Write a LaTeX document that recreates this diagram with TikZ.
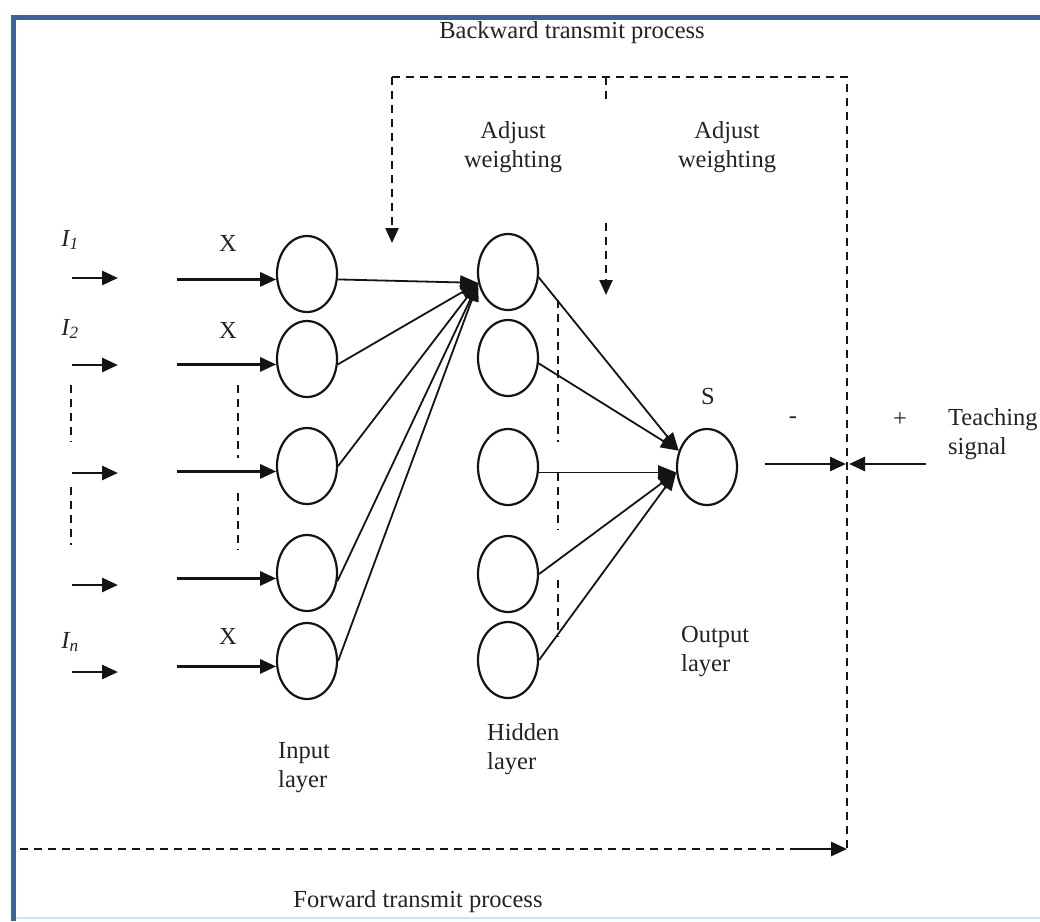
\documentclass[tikz,border=0pt]{standalone}
\usepackage{fontspec}
\setmainfont{Liberation Serif}
\usetikzlibrary{arrows.meta,shapes.geometric,calc}
\definecolor{frameblue}{RGB}{62,99,150}
\definecolor{lightframe}{RGB}{205,228,245}
\definecolor{ink}{RGB}{20,20,20}
\definecolor{txt}{RGB}{35,35,35}
\begin{document}
\begin{tikzpicture}[x=1pt,y=-1pt,
  neuron/.style={ellipse,draw=ink,line width=2.2pt,minimum width=60pt,minimum height=76pt,inner sep=0pt},
  conn/.style={draw=ink,line width=1.8pt,-{Triangle[length=18pt,width=14pt]}},
  inarr/.style={draw=ink,line width=2.8pt,-{Triangle[length=16pt,width=14pt]}},
  dsh/.style={draw=ink,line width=2.4pt,dash pattern=on 8pt off 6pt},
  dsharr/.style={dsh,-{Triangle[length=15pt,width=13pt]}},
  lbl/.style={text=txt,font=\fontsize{24.5}{29}\selectfont,inner sep=0pt},
]
\useasboundingbox (0,0) rectangle (1040,921);
\fill[white] (0,0) rectangle (1040,921);
% frame
\draw[frameblue,line width=5pt] (13,921) -- (13,17) -- (1040,17);
\draw[lightframe,line width=2pt] (16,918) -- (1040,918);

% neurons
\node[neuron] (in1) at (307,274) {};
\node[neuron] (in2) at (307,359) {};
\node[neuron] (in3) at (307,466) {};
\node[neuron] (in4) at (307,573) {};
\node[neuron] (in5) at (307,661) {};
\node[neuron] (h1) at (508,272) {};
\node[neuron] (h2) at (508,358) {};
\node[neuron] (h3) at (508,467) {};
\node[neuron] (h4) at (508,574) {};
\node[neuron] (h5) at (508,660) {};
\node[neuron] (out) at (707,467) {};

% input arrows (short)
\foreach \k/\y in {1/278,2/365,3/473,4/585,5/672}{
  \coordinate (s\k) at (72,\y);
  \coordinate (e\k) at (118,\y);
  \draw[inarr] (s\k) -- (e\k);
}
% input arrows (long, into input neurons)
\foreach \k in {1,...,5}{
  \draw[inarr] ($(in\k.190)+(-99,0)$) -- (in\k.190);
}
% dotted continuation marks
\draw[dsh] (71,385) -- (71,442);
\draw[dsh] (71,487) -- (71,545);
\draw[dsh] (238,385) -- (238,458);
\draw[dsh] (238,493) -- (238,550);
\draw[dsh] (558,300) -- (558,442);
\draw[dsh] (558,473) -- (558,530);
\draw[dsh] (558,580) -- (558,637);

% input -> hidden
\draw[conn] (in1.350) -- (h1.200);
\draw[conn] (in2.350) -- (h1.200);
\draw[conn] (in3.east) -- (h1.200);
\draw[conn] (in4.345) -- (h1.200);
\draw[conn] (in5.east) -- (h1.200);
% hidden -> output
\draw[conn] (h1.350) -- (out.150);
\draw[conn] (h2.350) -- (out.150);
\draw[conn] (h3.350) -- (out.190);
\draw[conn] (h4.east) -- (out.190);
\draw[conn] (h5.east) -- (out.190);

% backward transmit process
\coordinate (bl) at (392,77);
\coordinate (bm) at (606,77);
\coordinate (br) at (847,77);
\coordinate (blt) at (392,243);
\coordinate (bms) at (606,100);
\coordinate (bma) at (606,223);
\coordinate (bmt) at (606,295);
\coordinate (fr) at (847,849);
\draw[dsh] (bl) -- (br) -- (fr);
\draw[dsharr] (bl) -- (blt);
\draw[dsh] (bm) -- (bms);
\draw[dsharr] (bma) -- (bmt);

% forward transmit process
\coordinate (fl) at (20,849);
\coordinate (fm) at (790,849);
\draw[dsh] (fl) -- (fm);
\draw[inarr] (fm) -- (fr);

% error junction
\coordinate (om) at (765,464);
\coordinate (jl) at (846,464);
\coordinate (tm) at (926,464);
\coordinate (jr) at (849,464);
\draw[inarr] (om) -- (jl);
\draw[inarr] (tm) -- (jr);

% labels
\node[lbl] (bt) at (572,33) {Backward transmit process};
\node[lbl] (ftp) at (418,902) {Forward transmit process};
\node[lbl,align=center] (aw1) at (513,147) {Adjust\\weighting};
\node[lbl,align=center] (aw2) at (727,147) {Adjust\\weighting};
\node[lbl] (i1) at (70,240) {\itshape I\textsubscript{1}};
\node[lbl] (i2) at (70,329) {\itshape I\textsubscript{2}};
\node[lbl] (inn) at (70,642) {\itshape I\textsubscript{n}};
\node[lbl] (x1) at (228,243) {X};
\node[lbl] (x2) at (228,330) {X};
\node[lbl] (x3) at (228,636) {X};
\node[lbl] (sl) at (708,397) {S};
\node[lbl] (minus) at (793,420) {-};
\node[lbl] (plus) at (900,420) {+};
\node[lbl,align=left,anchor=west] (teach) at (948,434) {Teaching\\signal};
\node[lbl,align=left,anchor=west] (inl) at (278,768) {Input\\layer};
\node[lbl,align=left,anchor=west] (hil) at (487,749) {Hidden\\layer};
\node[lbl,align=left,anchor=west] (oul) at (681,652) {Output\\layer};
\end{tikzpicture}
\end{document}
